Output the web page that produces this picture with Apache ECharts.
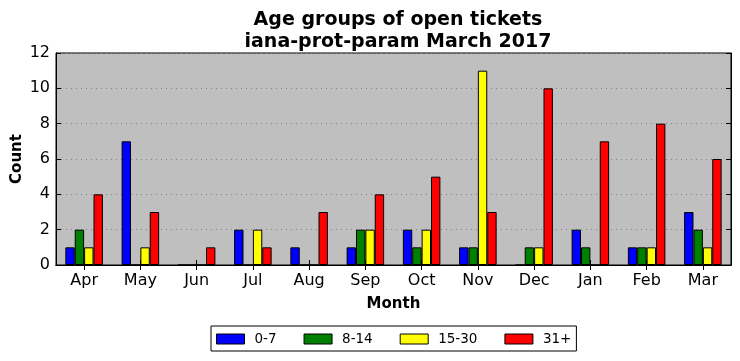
<!DOCTYPE html>
<html>
<head>
<meta charset="utf-8">
<script src="https://cdn.jsdelivr.net/npm/echarts@6/dist/echarts.min.js"></script>
<style>
html,body{margin:0;padding:0;background:#fff;}
#chart{width:740px;height:361px;}
</style>
</head>
<body>
<div id="chart"></div>
<script>
var months = ['Apr','May','Jun','Jul','Aug','Sep','Oct','Nov','Dec','Jan','Feb','Mar'];
var seriesNames = ['0-7','8-14','15-30','31+'];
var colors = ['#0000ff','#008000','#ffff00','#ff0000'];
var age0_7   = [1,7,0,2,1,1,2,1,0,2,1,3];
var age8_14  = [2,0,0,0,0,2,1,1,1,1,1,2];
var age15_30 = [1,1,0,2,0,2,2,11,1,0,1,1];
var age31p   = [4,3,1,1,3,4,5,3,10,7,8,6];
var yTicks = [0,2,4,6,8,10,12];

var FONT = 'DejaVu Sans';
var allData = [age0_7, age8_14, age15_30, age31p];
var series = allData.map(function(d, i){
  return {
    name: seriesNames[i], type: 'bar', data: d,
    xAxisIndex: 0, yAxisIndex: 0,
    barGap: '0%', barCategoryGap: '33.3%',
    itemStyle: {color: colors[i], borderColor: '#000', borderWidth: 1},
    emphasis: {disabled: true}
  };
});

var chart = echarts.init(document.getElementById('chart'), null, {renderer: 'canvas'});
chart.setOption({
  animation: false,
  backgroundColor: '#ffffff',
  title: {
    text: 'Age groups of open tickets\niana-prot-param March 2017',
    left: 393, top: 4, textAlign: 'center',
    textStyle: {fontFamily: FONT, fontWeight: 'bold', fontSize: 19, color: '#000', lineHeight: 22}
  },
  legend: {
    data: seriesNames,
    left: 211, top: 326,
    orient: 'horizontal',
    icon: 'rect', itemWidth: 28, itemHeight: 10, itemGap: 27,
    padding: [6, 5, 5, 5],
    borderColor: '#000', borderWidth: 1,
    itemStyle: {borderColor: '#000', borderWidth: 1},
    textStyle: {fontFamily: FONT, fontSize: 13.5, color: '#000', padding: [0,0,0,5]}
  },
  grid: {left: 56, right: 9, top: 53, bottom: 96, outerBoundsMode: 'none', containLabel: false,
    show: true, backgroundColor: '#bfbfbf', borderColor: '#000', borderWidth: 1},
  xAxis: [{
    type: 'category', data: months, position: 'bottom',
    name: 'Month', nameLocation: 'middle', nameGap: 32,
    nameTextStyle: {fontFamily: FONT, fontWeight: 'bold', fontSize: 15, color: '#000'},
    axisLine: {show: true, lineStyle: {color: '#000', width: 1}},
    axisTick: {show: true, inside: true, alignWithLabel: true, length: 5, lineStyle: {color: '#000'}},
    axisLabel: {fontFamily: FONT, fontSize: 16, color: '#000', margin: 8},
    splitLine: {show: false}
  },{
    type: 'category', data: months, position: 'top',
    axisLine: {show: true, lineStyle: {color: '#000', width: 1}},
    axisTick: {show: true, inside: true, alignWithLabel: true, length: 5, lineStyle: {color: '#000'}},
    axisLabel: {show: false},
    splitLine: {show: false}
  }],
  yAxis: [{
    type: 'value', min: 0, max: 12, interval: 2, position: 'left',
    name: 'Count', nameLocation: 'middle', nameGap: 31, nameMoveOverlap: false,
    nameTextStyle: {fontFamily: FONT, fontWeight: 'bold', fontSize: 15, color: '#000'},
    axisLine: {show: true, lineStyle: {color: '#000', width: 1}},
    axisTick: {show: true, inside: true, length: 5, lineStyle: {color: '#000'}},
    axisLabel: {fontFamily: FONT, fontSize: 16, color: '#000', margin: 6,
      formatter: function(v){ return yTicks.indexOf(v) >= 0 ? String(v) : ''; }},
    splitLine: {show: true, lineStyle: {color: '#808080', width: 1, type: [1, 4]}}
  },{
    type: 'value', min: 0, max: 12, interval: 2, position: 'right',
    axisLine: {show: true, lineStyle: {color: '#000', width: 1}},
    axisTick: {show: true, inside: true, length: 5, lineStyle: {color: '#000'}},
    axisLabel: {show: false},
    splitLine: {show: false}
  }],
  series: series
});
</script>
</body>
</html>
